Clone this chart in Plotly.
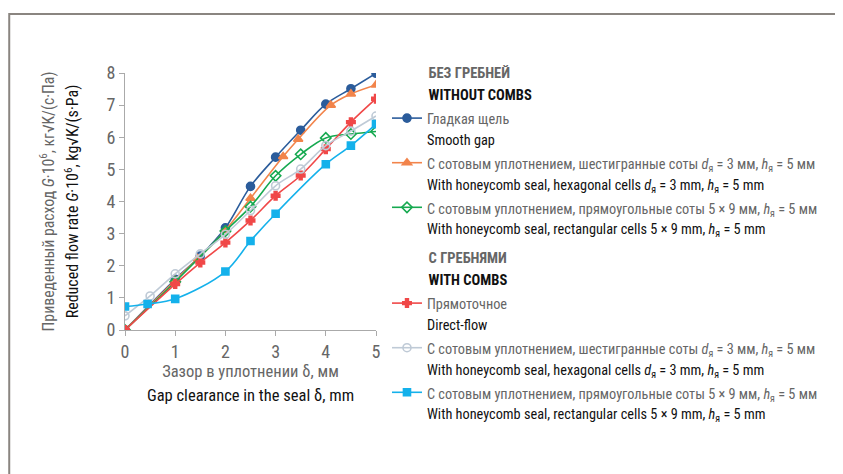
import plotly.graph_objects as go

# ---- data ----
smooth_x = [0, 1, 1.5, 2, 2.5, 3, 3.5, 4, 4.5, 5]
smooth_y = [0, 1.58, 2.3, 3.18, 4.47, 5.38, 6.22, 7.03, 7.51, 7.99]

hex_x = [0, 1, 1.45, 2, 2.5, 3.15, 3.45, 4.1, 4.5, 5]
hex_y = [0, 1.55, 2.22, 3.1, 4.1, 5.4, 5.94, 7.0, 7.35, 7.63]

rect_x = [0, 1, 2, 2.5, 3, 3.5, 4, 4.5, 5]
rect_y = [0, 1.5, 3.08, 3.84, 4.8, 5.47, 5.98, 6.1, 6.18]

direct_x = [0, 1, 1.5, 2, 2.5, 3, 3.5, 4, 4.5, 5]
direct_y = [0, 1.43, 2.1, 2.72, 3.41, 4.18, 4.81, 5.63, 6.47, 7.2]

hexc_x = [0, 0.5, 1, 1.5, 2, 2.5, 3, 3.5, 4, 4.5, 5]
hexc_y = [0.44, 1.06, 1.75, 2.37, 2.98, 3.72, 4.49, 5.01, 5.74, 6.19, 6.66]

rectc_x = [0, 0.45, 1, 2, 2.5, 3, 4, 4.5, 5]
rectc_y = [0.73, 0.81, 0.97, 1.82, 2.77, 3.62, 5.16, 5.74, 6.41]

x_ticks = [0, 1, 2, 3, 4, 5]
y_ticks = [0, 1, 2, 3, 4, 5, 6, 7, 8]

GREY = "#666666"
BLACK = "#111111"
FONT = "Roboto Condensed, Liberation Sans Narrow, sans-serif"


def two(ru, en, px, px2=None):
    px2 = px if px2 is None else px2
    return (f"<span style='color:{GREY};font-size:{px}px'>{ru}</span><br>"
            f"<span style='color:{BLACK};font-size:{px2}px'>{en}</span>")


LEG_PX = 14.3
series = [
    dict(x=smooth_x, y=smooth_y, color="#2B5C9B", symbol="circle", size=8, group="g1",
         name=("Гладкая щель", "Smooth gap")),
    dict(x=hex_x, y=hex_y, color="#F2844B", symbol="triangle-up", size=8, group="g1",
         name=("С сотовым уплотнением, шестигранные соты <i>d</i><sub>я</sub> = 3 мм, <i>h</i><sub>я</sub> = 5 мм",
               "With honeycomb seal, hexagonal cells <i>d</i><sub>я</sub> = 3 mm, <i>h</i><sub>я</sub> = 5 mm")),
    dict(x=rect_x, y=rect_y, color="#16A950", symbol="diamond-open", size=8, group="g1",
         name=("С сотовым уплотнением, прямоугольные соты 5 × 9 мм, <i>h</i><sub>я</sub> = 5 мм",
               "With honeycomb seal, rectangular cells 5 × 9 mm, <i>h</i><sub>я</sub> = 5 mm")),
    dict(x=direct_x, y=direct_y, color="#F04848", symbol="cross", size=7, group="g2",
         name=("Прямоточное", "Direct-flow")),
    dict(x=hexc_x, y=hexc_y, color="#BFCAD6", symbol="circle-open", size=8, group="g2",
         name=("С сотовым уплотнением, шестигранные соты <i>d</i><sub>я</sub> = 3 мм, <i>h</i><sub>я</sub> = 5 мм",
               "With honeycomb seal, hexagonal cells <i>d</i><sub>я</sub> = 3 mm, <i>h</i><sub>я</sub> = 5 mm")),
    dict(x=rectc_x, y=rectc_y, color="#14B1EB", symbol="square", size=7, group="g2",
         name=("С сотовым уплотнением, прямоугольные соты 5 × 9 мм, <i>h</i><sub>я</sub> = 5 мм",
               "With honeycomb seal, rectangular cells 5 × 9 mm, <i>h</i><sub>я</sub> = 5 mm")),
]

PAD = "\u00a0" * 11
group_titles = {
    "g1": (PAD + "<b>БЕЗ ГРЕБНЕЙ</b>", PAD + "<b>WITHOUT COMBS</b>"),
    "g2": (PAD + "<b>С ГРЕБНЯМИ</b>", PAD + "<b>WITH COMBS</b>"),
}

fig = go.Figure()
seen = set()
for s in series:
    kw = {}
    if s["group"] not in seen:
        ru, en = group_titles[s["group"]]
        kw["legendgrouptitle"] = dict(text=two(ru, en, 14.5), font=dict(size=17, family=FONT))
        seen.add(s["group"])
    fig.add_trace(go.Scatter(
        x=s["x"], y=s["y"], mode="lines+markers", name=two(*s["name"], LEG_PX),
        legendgroup=s["group"],
        line=dict(color=s["color"], width=1.6, shape="spline", smoothing=1.0),
        marker=dict(symbol=s["symbol"], size=s["size"], color=s["color"],
                    line=dict(width=1.6, color=s["color"])),
        **kw))

# plot area in figure pixels (page body adds an 8 px offset)
L, R, T, B = 116.5, 368.0, 65.0, 322.0
W, H = R - L, B - T

# frame
X0 = (0.5 - L) / W
X1 = (843 - L) / W
YT = (B - 6) / H
YB = (B - 474) / H
fig.add_shape(type="path", xref="paper", yref="paper",
              path=f"M {X0},{YB} L {X0},{YT} L {X1},{YT}",
              line=dict(color="#8a8580", width=2))

fig.update_layout(
    width=843, height=474,
    margin=dict(l=L, r=843 - R, t=T, b=474 - B, autoexpand=False),
    paper_bgcolor="white", plot_bgcolor="white",
    font=dict(family=FONT, size=15, color=GREY),
    showlegend=True,
    legend=dict(x=(379 - L) / W, y=(B - 46) / H,
                xanchor="left", yanchor="top", valign="top", maxheight=470,
                font=dict(size=16, family=FONT), tracegroupgap=4, itemwidth=30,
                bgcolor="rgba(0,0,0,0)"),
)
fig.update_xaxes(range=[0, 5], tickvals=x_ticks, ticks="outside", ticklen=5, tickcolor="#aaaaaa",
                 showline=True, linecolor="#aaaaaa", linewidth=1, showgrid=False, zeroline=False,
                 tickfont=dict(size=18, color=GREY), automargin=False,
                 title=dict(text=two("Зазор в уплотнении δ, мм", "Gap clearance in the seal δ, mm", 16.5),
                            font=dict(size=19), standoff=0))
fig.update_yaxes(range=[0, 8], tickvals=y_ticks, ticks="outside", ticklen=5, tickcolor="#aaaaaa",
                 showline=True, linecolor="#aaaaaa", linewidth=1, showgrid=False, zeroline=False,
                 tickfont=dict(size=18, color=GREY), automargin=False,
                 title=dict(text=two("Приведенный расход <i>G</i>·10<sup>6</sup>, кг√K/(с·Па)",
                                     "Reduced flow rate <i>G</i>·10<sup>6</sup>, kg√K/(s·Pa)", 15.8, 16),
                            font=dict(size=19), standoff=22))

fig.write_html("out.html")
